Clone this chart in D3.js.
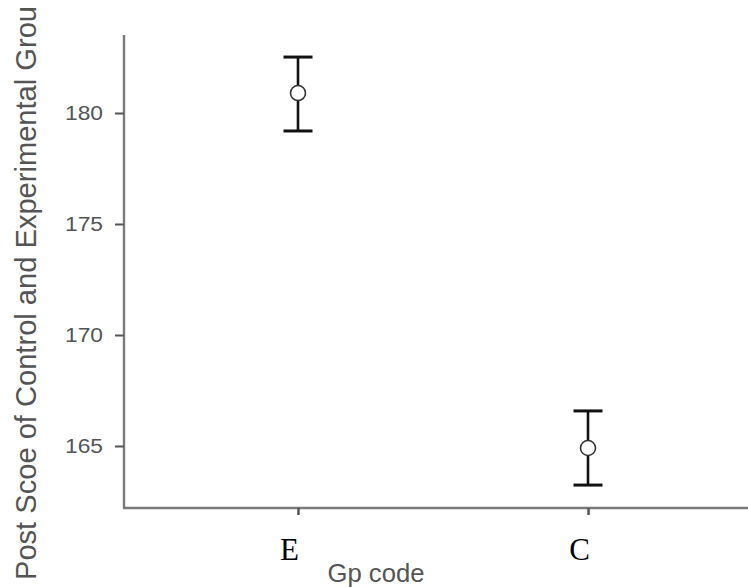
<!DOCTYPE html>
<html><head><meta charset="utf-8">
<script src="https://cdn.jsdelivr.net/npm/d3@7"></script>
<style>body{margin:0;background:#fff;overflow:hidden}</style>
</head><body>
<svg id="c" width="748" height="587"></svg>
<script>
const groups = ["E", "C"];
const means = [180.9, 164.91];
const upper = [182.52, 166.58];
const lower = [179.19, 163.24];
const yTicks = [165, 170, 175, 180];
const yTitle = "Post Scoe of Control and Experimental Grou";
const xTitle = "Gp code";

(function () {
const svg = d3.select("#c");
const mLeft = 124, mBottom = 508, mTop = 35;
const y = d3.scaleLinear().domain([165, 180]).range([446, 113]);
const x = d3.scalePoint().domain(groups).range([298, 588]);

// axes lines
svg.append("line").attr("x1", mLeft).attr("x2", mLeft).attr("y1", mTop).attr("y2", mBottom)
  .attr("stroke", "#7a7a7a").attr("stroke-width", 2.4);
svg.append("line").attr("x1", mLeft - 1).attr("x2", 748).attr("y1", mBottom).attr("y2", mBottom)
  .attr("stroke", "#7a7a7a").attr("stroke-width", 2.4);

// y axis
const yAxis = d3.axisLeft(y).tickValues(yTicks).tickSize(9).tickPadding(12).tickSizeOuter(0);
const gy = svg.append("g").attr("transform", `translate(${mLeft},0)`).call(yAxis);
gy.select(".domain").remove();
gy.selectAll(".tick line").attr("stroke", "#555").attr("stroke-width", 2);
gy.selectAll(".tick text").attr("fill", "#555").attr("font-family", "Liberation Sans, Arial, sans-serif")
  .attr("font-size", 20.5).attr("textLength", 38).attr("lengthAdjust", "spacingAndGlyphs");

// x axis
const xAxis = d3.axisBottom(x).tickSize(7).tickPadding(23).tickSizeOuter(0);
const gx = svg.append("g").attr("transform", `translate(0,${mBottom})`).call(xAxis);
gx.select(".domain").remove();
gx.selectAll(".tick line").attr("stroke", "#555").attr("stroke-width", 2.5);
gx.selectAll(".tick text").attr("fill", "#000").attr("font-family", "Liberation Serif, Times New Roman, serif")
  .attr("font-size", 31).attr("dx", -9);

// titles
svg.append("text").attr("x", 376).attr("y", 582).attr("text-anchor", "middle")
  .attr("fill", "#555").attr("font-family", "Liberation Sans, Arial, sans-serif").attr("font-size", 25)
  .attr("textLength", 97).attr("lengthAdjust", "spacingAndGlyphs")
  .text(xTitle);
svg.append("text").attr("transform", "translate(36,580) rotate(-90)").attr("text-anchor", "start")
  .attr("fill", "#555").attr("font-family", "Liberation Sans, Arial, sans-serif").attr("font-size", 29)
  .attr("textLength", 574).attr("lengthAdjust", "spacingAndGlyphs")
  .text(yTitle);

// error bars
const capW = 14.5;
const eb = svg.append("g");
groups.forEach((g, i) => {
  const cx = x(g);
  eb.append("line").attr("x1", cx).attr("x2", cx).attr("y1", y(upper[i])).attr("y2", y(lower[i]))
    .attr("stroke", "#111").attr("stroke-width", 2.6);
  [upper[i], lower[i]].forEach(v => {
    eb.append("line").attr("x1", cx - capW).attr("x2", cx + capW).attr("y1", y(v)).attr("y2", y(v))
      .attr("stroke", "#111").attr("stroke-width", 3);
  });
  eb.append("circle").attr("cx", cx).attr("cy", y(means[i])).attr("r", 7.5)
    .attr("fill", "#fff").attr("stroke", "#333").attr("stroke-width", 1.6);
});
})();
</script>
</body></html>
